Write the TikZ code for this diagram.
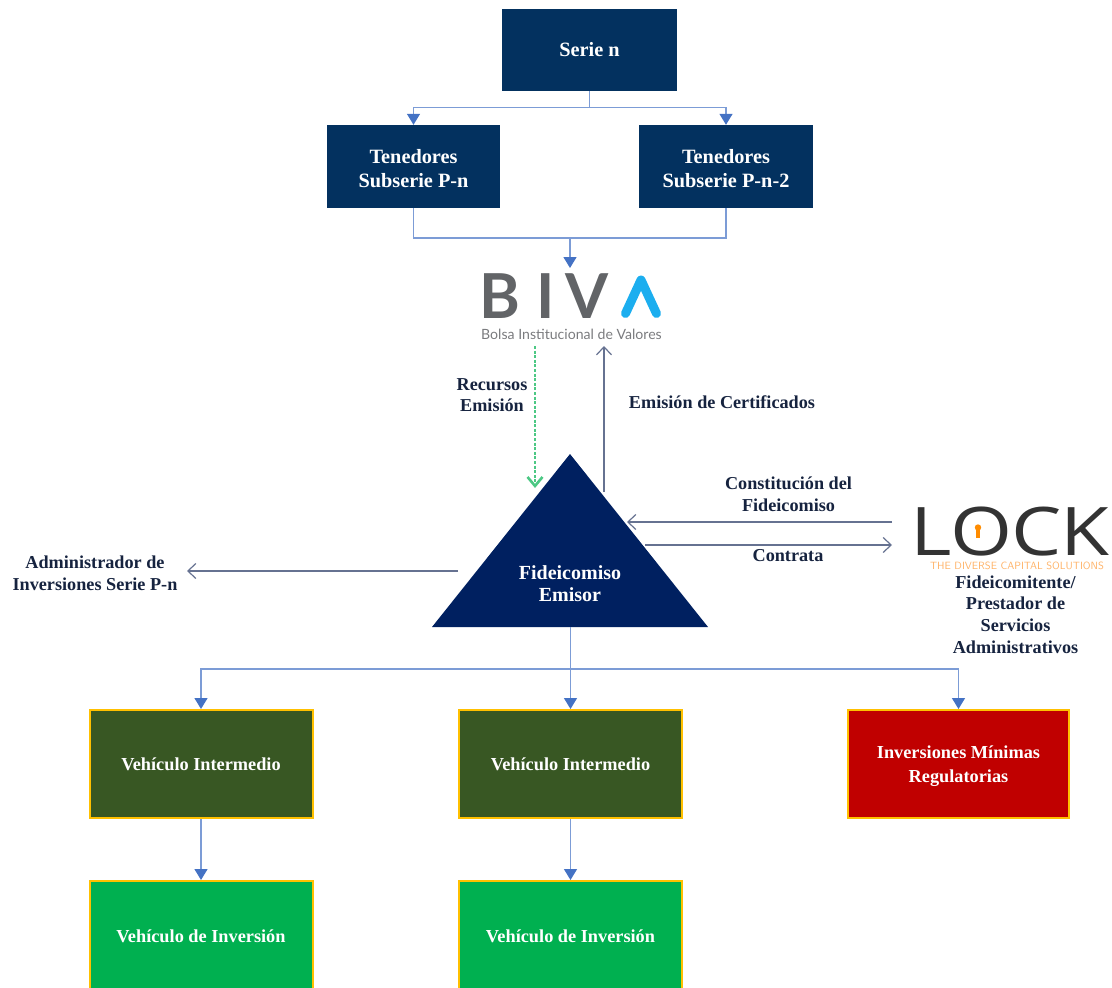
\documentclass[tikz,border=0pt]{standalone}
\usepackage{fontspec}
\setmainfont{Liberation Serif}
\newfontfamily\logof{Lato}
\newfontfamily\lockf{Open Sans}
\usetikzlibrary{arrows.meta,positioning,calc}
\definecolor{navy}{HTML}{03315F}
\definecolor{trinavy}{HTML}{002060}
\definecolor{linkblue}{HTML}{4472C4}
\definecolor{slate}{HTML}{7F8FB5}
\definecolor{dkgreen}{HTML}{385723}
\definecolor{brgreen}{HTML}{00B050}
\definecolor{redbox}{HTML}{C00000}
\definecolor{gold}{HTML}{FFC000}
\definecolor{inktext}{HTML}{16233F}
\definecolor{bivagray}{HTML}{626467}
\definecolor{bivablue}{HTML}{1CAEEF}
\tikzset{
  x=1pt,y=-1pt,
  navybox/.style={fill=navy,draw=none,text=white,inner sep=0pt,align=center,font=\fontsize{20.3}{24}\selectfont\bfseries},
  goldbox/.style={draw=gold,line width=2pt,text=white,inner sep=0pt,align=center,font=\fontsize{18.3}{24}\selectfont\bfseries},
  txtlabel/.style={text=inktext,inner sep=0pt,align=center,font=\fontsize{18.2}{21.7}\selectfont\bfseries},
  linkline/.style={draw=linkblue!70,line width=1.4pt},
  linkarrow/.style={linkline,-{Triangle[length=11pt,width=13pt,color=linkblue]}},
  openarrow/.style={draw=slate!80!black,line width=1.2pt,-{Straight Barb[length=8pt,width=15pt]}},
  greenarrow/.style={draw=brgreen!70,line width=2.6pt,dash pattern=on 3pt off 1.6pt,-{Straight Barb[length=9pt,width=15pt]}}
}
\begin{document}
\begin{tikzpicture}
\useasboundingbox (0,0) rectangle (1112,988);
% boxes
\node[navybox,minimum width=175pt,minimum height=82pt] (serie) at (589.5,50) {Serie n};
\node[navybox,minimum width=173pt,minimum height=83pt] (tenA) at (413.5,166.5) {\rule{0pt}{18pt}Tenedores\\Subserie P-n};
\node[navybox,minimum width=174pt,minimum height=83pt] (tenB) at (726,166.5) {\rule{0pt}{18pt}Tenedores\\Subserie P-n-2};
% BIVA logo
\node[inner sep=0pt,text=bivagray,font=\fontsize{62}{62}\selectfont\logof\bfseries,text height=44pt,text depth=0pt] (biva) at (544,296) {B\hspace{16pt}I\hspace{10pt}V};
\draw[bivablue,line width=9pt,line cap=round,line join=round] (625.5,313.5) -- (641,280) -- (656.5,313.5);
\node[inner sep=0pt,text=bivagray!85,font=\fontsize{14.1}{16}\selectfont\logof,text height=10pt,text depth=3pt] (bivasub) at (571.5,336) {Bolsa Institucional de Valores};
\coordinate (bivatop) at (570,268);
\coordinate (bivaL) at (535,346);
\coordinate (bivaR) at (604,346);
% triangle
\coordinate (triT) at (570,454);
\coordinate (triL) at (432,627);
\coordinate (triR) at (708,627);
\coordinate (triB) at (570.5,627);
\fill[trinavy] (triT) -- (triR) -- (triL) -- cycle;
\node[inner sep=0pt,text=white,align=center,font=\fontsize{20}{22}\selectfont\bfseries] (fid) at (570,584) {Fideicomiso\\Emisor};
\coordinate (triGreen) at (535,488);
\coordinate (triUp) at (604,492);
\coordinate (triC) at (627,522);
\coordinate (triK) at (645,545);
\coordinate (triA) at (458,571);
% LOCK logo
\node[inner sep=0pt,text=black!80,font=\fontsize{67}{67}\selectfont\lockf,anchor=base west,text height=48pt,text depth=0pt] (lock) at (910,555.5) {\scalebox{1.19}[1]{L\hspace{-1pt}O\hspace{-1pt}C\hspace{-1pt}K}};
\fill[orange!90!yellow] (978,527.5) circle (3.2pt);
\fill[orange!90!yellow] (976.4,527.5) rectangle (979.6,538);
\node[inner sep=0pt,text=orange!60,font=\fontsize{10.5}{10}\selectfont\sffamily,text height=7pt,text depth=0pt] (locksub) at (1017,566) {THE DIVERSE CAPITAL SOLUTIONS};
\coordinate (lockA) at (892,522);
\coordinate (lockB) at (892,545);
% labels
\node[txtlabel] (recursos) at (492,395) {Recursos\\Emisión};
\node[txtlabel] (certif) at (722,402) {Emisión de Certificados};
\node[txtlabel] (constit) at (788.5,494) {Constitución del\\Fideicomiso};
\node[txtlabel] (contrata) at (788,556) {Contrata};
\node[txtlabel] (admin) at (95,573.5) {Administrador de\\Inversiones Serie P-n};
\coordinate (adminE) at (187,571);
\node[txtlabel] (fideic) at (1015.5,614.5) {Fideicomitente/\\Prestador de\\Servicios\\Administrativos};
% lower boxes
\node[goldbox,fill=dkgreen,minimum width=223pt,minimum height=108pt] (vi1) at (201,764) {Vehículo Intermedio};
\node[goldbox,fill=dkgreen,minimum width=223pt,minimum height=108pt] (vi2) at (570.5,764) {Vehículo Intermedio};
\node[goldbox,fill=redbox,minimum width=221pt,minimum height=108pt] (minreg) at (958.5,764) {\rule{0pt}{18pt}Inversiones Mínimas\\Regulatorias};
\node[goldbox,fill=brgreen,minimum width=223pt,minimum height=110pt] (vv1) at (201,936) {Vehículo de Inversión};
\node[goldbox,fill=brgreen,minimum width=223pt,minimum height=110pt] (vv2) at (570.5,936) {Vehículo de Inversión};
% connectors
\coordinate (j1) at ($(serie.south)+(0,16)$);
\draw[linkline] (serie.south) -- (j1);
\draw[linkarrow] (j1) -| (tenA.north);
\draw[linkarrow] (j1) -| (tenB.north);
\coordinate (j2) at (570,238);
\draw[linkline] (tenA.south) |- (j2);
\draw[linkline] (tenB.south) |- (j2);
\draw[linkarrow] (j2) -- (bivatop);
\draw[greenarrow] (bivaL) -- (triGreen);
\draw[openarrow] (triUp) -- (bivaR);
\draw[openarrow] (lockA) -- (triC);
\draw[openarrow] (triK) -- (lockB);
\draw[openarrow] (triA) -- (adminE);
\coordinate (j3) at (570.5,669);
\draw[linkarrow] (triB) -- (vi2.north);
\draw[linkarrow] (j3) -| (vi1.north);
\draw[linkarrow] (j3) -| (minreg.north);
\draw[linkarrow] (vi1.south) -- (vv1.north);
\draw[linkarrow] (vi2.south) -- (vv2.north);
\end{tikzpicture}
\end{document}
